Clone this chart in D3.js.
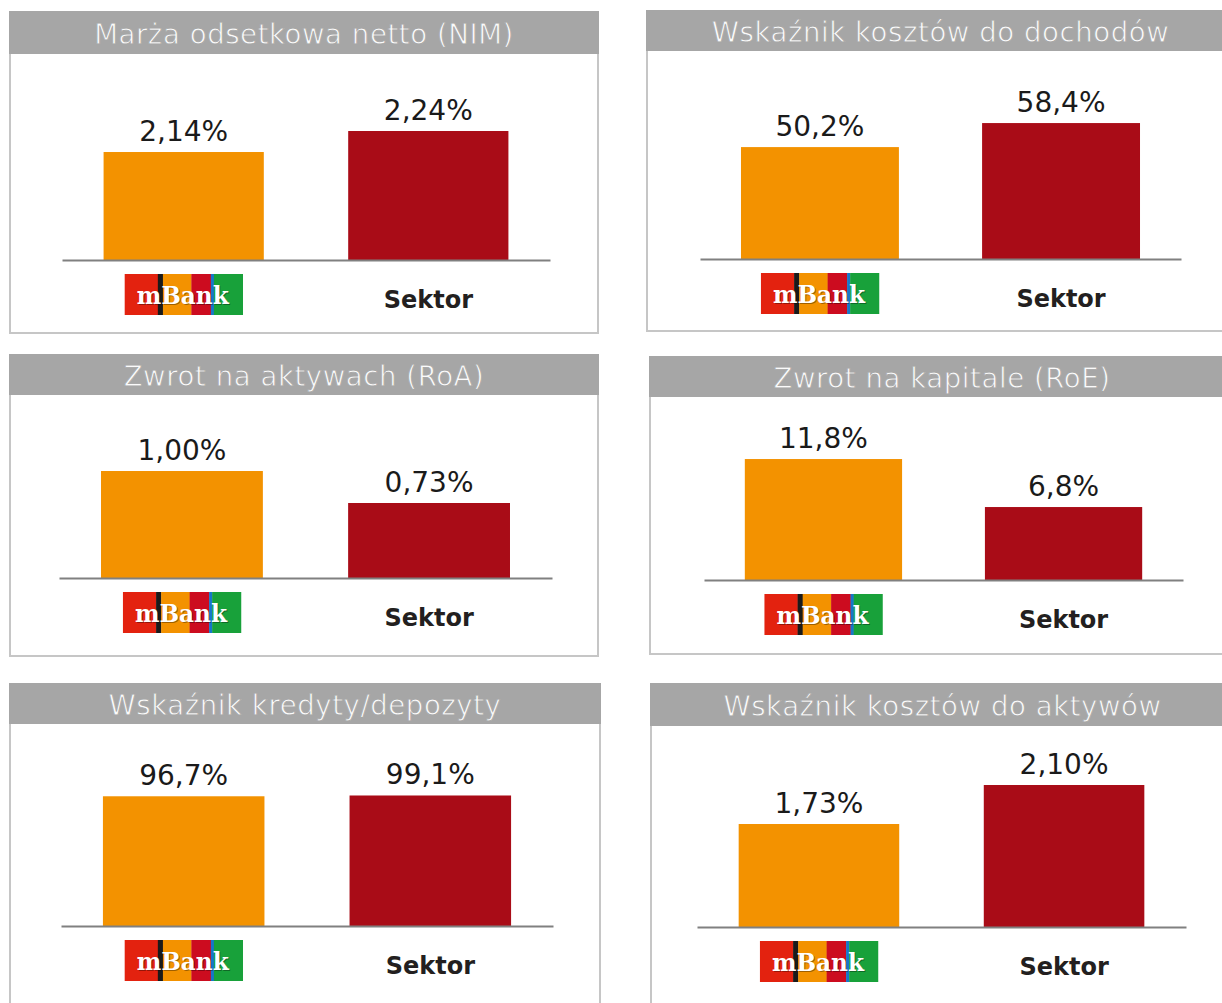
<!DOCTYPE html>
<html>
<head>
<meta charset="utf-8">
<script src="https://cdn.jsdelivr.net/npm/d3@7"></script>
<style>
  html, body { margin: 0; padding: 0; background: #fff; }
  svg { display: block; }
</style>
</head>
<body>
<svg id="chart"></svg>
<script>
"use strict";

/* ── Data ─────────────────────────────────────────────── */
const titles = [
  "Marża odsetkowa netto (NIM)",
  "Wskaźnik kosztów do dochodów",
  "Zwrot na aktywach (RoA)",
  "Zwrot na kapitale (RoE)",
  "Wskaźnik kredyty/depozyty",
  "Wskaźnik kosztów do aktywów"
];
const categories = ["mBank", "Sektor"];
const mbankValues  = [2.14, 50.2, 1.00, 11.8, 96.7, 1.73];
const sectorValues = [2.24, 58.4, 0.73, 6.8, 99.1, 2.10];
const decimals     = [2, 1, 2, 1, 1, 2];
// each mini chart has its own (non-zero) value axis
const yDomains = [
  [1.626, 2.340], [12.0, 63.2], [0.097, 1.363],
  [-0.8, 14.825], [-300, 158.7], [0.753, 2.176]
];

/* ── Layout ───────────────────────────────────────────── */
const W = 1222, H = 1003;
const PANELS = [
  { x0: 10,  x1: 598,  y0: 12,  y1: 333,  th: 42, ax0: 62,  ax1: 550,  base: 260 },
  { x0: 647, x1: 1232, y0: 11,  y1: 331,  th: 40, ax0: 700, ax1: 1181, base: 259 },
  { x0: 10,  x1: 598,  y0: 355, y1: 656,  th: 40, ax0: 59,  ax1: 552,  base: 578 },
  { x0: 650, x1: 1232, y0: 357, y1: 654,  th: 40, ax0: 704, ax1: 1183, base: 580 },
  { x0: 10,  x1: 600,  y0: 684, y1: 1013, th: 40, ax0: 61,  ax1: 553,  base: 926 },
  { x0: 651, x1: 1232, y0: 684, y1: 1013, th: 42, ax0: 697, ax1: 1186, base: 927 }
];
const PLOT_H = 150;
const TITLE_BG = "#a6a6a6";
const COLORS = { mBank: "#f39200", Sektor: "#a90c17" };
const LOGO_W = 118, LOGO_H = 41;
const LOGO_STRIPES = [
  { f0: 0.000, f1: 0.281, c: "#e3220f" },
  { f0: 0.281, f1: 0.324, c: "#1a1a1a" },
  { f0: 0.324, f1: 0.565, c: "#f39200" },
  { f0: 0.565, f1: 0.730, c: "#cc0c1f" },
  { f0: 0.730, f1: 0.756, c: "#1677c9" },
  { f0: 0.756, f1: 1.000, c: "#18a13a" }
];

const plLocale = d3.formatLocale({ decimal: ",", thousands: " ", grouping: [3], currency: ["", " zł"] });

const svg = d3.select("#chart").attr("width", W).attr("height", H);

PANELS.forEach((p, i) => {
  const g = svg.append("g");
  const rows = categories.map((c, k) => ({ cat: c, v: k === 0 ? mbankValues[i] : sectorValues[i] }));
  const fmt = plLocale.format(`.${decimals[i]}f`);

  /* frame + title bar */
  g.append("rect")
    .attr("x", p.x0).attr("y", p.y0)
    .attr("width", p.x1 - p.x0).attr("height", p.y1 - p.y0)
    .attr("fill", "#fff").attr("stroke", "#c6c6c6").attr("stroke-width", 2);
  g.append("rect")
    .attr("x", p.x0 - 1).attr("y", p.y0 - 1)
    .attr("width", p.x1 - p.x0 + 2).attr("height", p.th + 1)
    .attr("fill", TITLE_BG);
  const visRight = Math.min(p.x1, W);
  // thin stroke in the bar colour makes the regular face look lighter
  g.append("text")
    .attr("x", (p.x0 + visRight) / 2 + (p.x1 > W ? 6 : 0))
    .attr("y", p.y0 + p.th / 2 + 1)
    .attr("text-anchor", "middle")
    .attr("dominant-baseline", "central")
    .attr("font-family", "DejaVu Sans, Verdana, sans-serif")
    .attr("font-size", 27.5)
    .attr("letter-spacing", 0.6)
    .attr("fill", "#fbfbfb")
    .attr("stroke", TITLE_BG)
    .attr("stroke-width", 0.8)
    .text(titles[i]);

  /* scales */
  const x = d3.scaleBand()
    .domain(categories)
    .range([p.ax0, p.ax1])
    .paddingInner(0.345)
    .paddingOuter(0.17);
  const y = d3.scaleLinear().domain(yDomains[i]).range([p.base, p.base - PLOT_H]);

  /* bars */
  g.selectAll(".bar").data(rows).join("rect")
    .attr("class", "bar")
    .attr("x", (d) => x(d.cat))
    .attr("width", x.bandwidth())
    .attr("y", (d) => y(d.v))
    .attr("height", (d) => p.base - y(d.v))
    .attr("fill", (d) => COLORS[d.cat]);

  /* baseline axis */
  const axis = g.append("g")
    .attr("transform", `translate(0,${p.base})`)
    .call(d3.axisBottom(x).tickSize(0).tickFormat(""));
  axis.select(".domain").attr("stroke", "#808080").attr("stroke-width", 2.2);

  /* value labels */
  g.selectAll(".val").data(rows).join("text")
    .attr("class", "val")
    .attr("x", (d) => x(d.cat) + x.bandwidth() / 2)
    .attr("y", (d) => y(d.v) - 11)
    .attr("text-anchor", "middle")
    .attr("font-family", "DejaVu Sans, Verdana, sans-serif")
    .attr("font-size", 28)
    .attr("fill", "#1a1a1a")
    .text((d) => fmt(d.v) + "%");

  /* category labels: mBank logo + "Sektor" */
  const cx0 = x("mBank") + x.bandwidth() / 2;
  const logo = g.append("g")
    .attr("transform", `translate(${cx0 - LOGO_W / 2},${p.base + 14})`);
  logo.selectAll("rect").data(LOGO_STRIPES).join("rect")
    .attr("x", (s) => s.f0 * LOGO_W)
    .attr("width", (s) => (s.f1 - s.f0) * LOGO_W + 0.3)
    .attr("height", LOGO_H)
    .attr("fill", (s) => s.c);
  [["rgba(0,0,0,0.35)", 1], ["#fff", 0]].forEach(([fill, off]) => {
    logo.append("text")
      .attr("x", LOGO_W / 2 - 1 + off).attr("y", 29.5 + off)
      .attr("text-anchor", "middle")
      .attr("font-family", "DejaVu Serif, serif")
      .attr("font-weight", "bold")
      .attr("font-size", 24)
      .attr("textLength", 92)
      .attr("lengthAdjust", "spacingAndGlyphs")
      .attr("fill", fill)
      .text("mBank");
  });

  g.append("text")
    .attr("x", x("Sektor") + x.bandwidth() / 2)
    .attr("y", p.base + 48)
    .attr("text-anchor", "middle")
    .attr("font-family", "DejaVu Sans, Verdana, sans-serif")
    .attr("font-weight", "bold")
    .attr("font-size", 24)
    .attr("fill", "#231f20")
    .text("Sektor");
});
</script>
</body>
</html>
